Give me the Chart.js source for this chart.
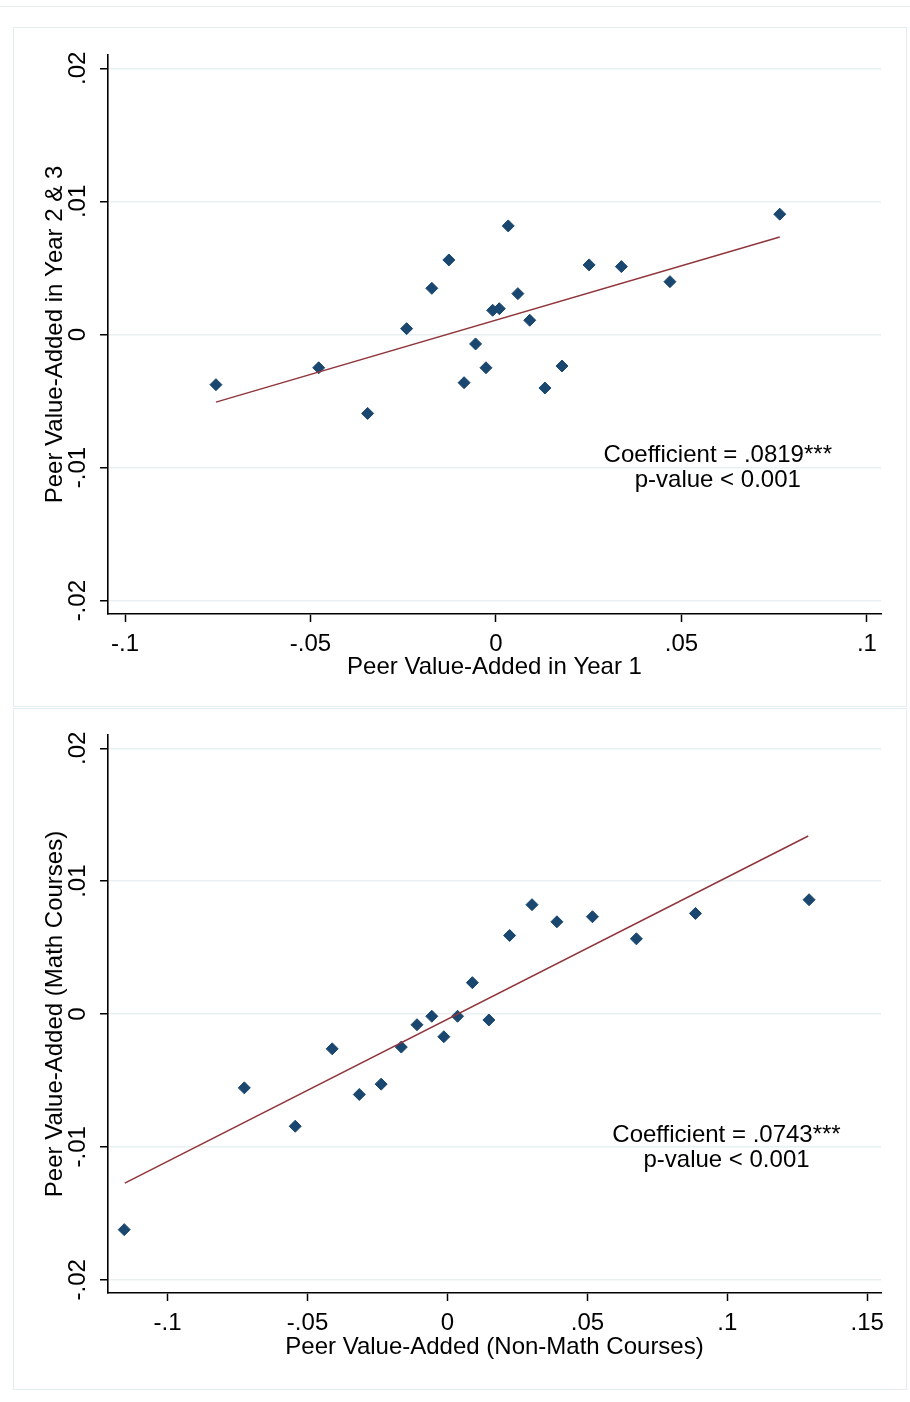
<!DOCTYPE html>
<html>
<head>
<meta charset="utf-8">
<script src="https://cdn.jsdelivr.net/npm/chart.js@4"></script>
<style>
  body { margin: 0; background: #fff; width: 910px; height: 1402px; position: relative; overflow: hidden; }
  .topline { position: absolute; left: 0; top: 6px; width: 910px; border-top: 1px solid #e6eef0; }
  .panel { position: absolute; left: 13px; width: 892px; border: 1px solid #e3ecee; }
  .panel canvas { display: block; }
</style>
</head>
<body>
<div class="topline"></div>
<div class="panel" style="top: 27px; height: 678px;">
  <canvas id="yearChart" width="892" height="678"></canvas>
</div>
<div class="panel" style="top: 708px; height: 680px;">
  <canvas id="mathChart" width="892" height="680"></canvas>
</div>
<script>
// shared y axis
const yTicks = [-0.02, -0.01, 0, 0.01, 0.02];
const yTickLabels = ['-.02', '-.01', '0', '.01', '.02'];

// top panel: year 1 vs year 2 & 3
const yearTicks = [-0.1, -0.05, 0, 0.05, 0.1];
const yearTickLabels = ['-.1', '-.05', '0', '.05', '.1'];
const year1 = [-0.0755, -0.0478, -0.0346, -0.0241, -0.0173, -0.0127, -0.0086, -0.0055, -0.0027, -0.0009,
  0.0009, 0.0033, 0.0059, 0.0091, 0.0132, 0.0178, 0.0251, 0.0338, 0.0469, 0.0765];
const year23 = [-0.00377, -0.00250, -0.00593, 0.00044, 0.00347, 0.00560, -0.00362, -0.00071, -0.00250, 0.00182,
  0.00194, 0.00816, 0.00307, 0.00107, -0.00402, -0.00237, 0.00523, 0.00510, 0.00397, 0.00904];
const yearFitX = [-0.0755, 0.0765];
const yearFitY = [-0.00508, 0.00733];
const yearNote = ['Coefficient = .0819***', 'p-value < 0.001'];

// bottom panel: non-math vs math courses
const mathTicks = [-0.1, -0.05, 0, 0.05, 0.1, 0.15];
const mathTickLabels = ['-.1', '-.05', '0', '.05', '.1', '.15'];
const nonMath = [-0.1155, -0.0726, -0.0544, -0.0412, -0.0315, -0.0237, -0.0165, -0.0109, -0.0056, -0.0013,
  0.0036, 0.0089, 0.0148, 0.0222, 0.0302, 0.0391, 0.0518, 0.0675, 0.0886, 0.1292];
const math = [-0.01623, -0.00556, -0.00845, -0.00262, -0.00606, -0.00528, -0.00249, -0.00081, -0.00017, -0.00171,
  -0.00017, 0.00236, -0.00045, 0.00591, 0.00823, 0.00694, 0.00732, 0.00566, 0.00757, 0.0086];
const mathFitX = [-0.1153, 0.1289];
const mathFitY = [-0.01273, 0.0134];
const mathNote = ['Coefficient = .0743***', 'p-value < 0.001'];

const NAVY = '#1a476f';
const MAROON = '#90353b';
const GRID = '#e8f0f2';
const FONT = "'Liberation Sans', Arial, sans-serif";

const toPoints = (xs, ys) => xs.map((x, i) => ({ x: x, y: ys[i] }));

// y tick labels are rotated and centred on the tick, plus the coefficient note
const stataText = {
  id: 'stataText',
  afterDraw(chart, args, opts) {
    const ctx = chart.ctx;
    const ys = chart.scales.y;
    const xs = chart.scales.x;
    ctx.save();
    ctx.fillStyle = '#000';
    ctx.font = '24px ' + FONT;
    ctx.textAlign = 'center';
    ctx.textBaseline = 'middle';
    ys.ticks.forEach((t, i) => {
      ctx.save();
      ctx.translate(opts.labelX, ys.getPixelForValue(t.value));
      ctx.rotate(-Math.PI / 2);
      ctx.fillText(yTickLabels[i], 0, 0);
      ctx.restore();
    });
    const nx = xs.getPixelForValue(opts.noteAt[0]);
    const ny = ys.getPixelForValue(opts.noteAt[1]);
    opts.note.forEach((line, i) => ctx.fillText(line, nx, ny + i * 25));
    ctx.restore();
  }
};

const Charts = {
  init() {
    Chart.defaults.color = '#000';
    Chart.defaults.font.family = FONT;
    Chart.defaults.font.size = 24;

    this.draw('yearChart', {
      pts: toPoints(year1, year23),
      fit: toPoints(yearFitX, yearFitY),
      xMin: -0.1046, xMax: 0.1038,
      ticks: yearTicks, tickLabels: yearTickLabels,
      xTitle: 'Peer Value-Added in Year 1',
      yTitle: 'Peer Value-Added in Year 2 & 3',
      note: yearNote, noteAt: [0.0598, -0.0091],
      padTop: 27, xHeight: 92, xTitlePad: 24
    });
    this.draw('mathChart', {
      pts: toPoints(nonMath, math),
      fit: toPoints(mathFitX, mathFitY),
      xMin: -0.1213, xMax: 0.1549,
      ticks: mathTicks, tickLabels: mathTickLabels,
      xTitle: 'Peer Value-Added (Non-Math Courses)',
      yTitle: 'Peer Value-Added (Math Courses)',
      note: mathNote, noteAt: [0.0997, -0.0091],
      padTop: 26, xHeight: 96, xTitlePad: 27
    });
  },

  draw(id, c) {
    const ctx = document.getElementById(id);
    if (!ctx) return;

    new Chart(ctx, {
      type: 'scatter',
      data: {
        datasets: [{
          label: 'Fitted values',
          data: c.fit,
          showLine: true,
          borderColor: MAROON,
          borderWidth: 1.5,
          pointRadius: 0
        }, {
          label: 'Peer value-added',
          data: c.pts,
          pointStyle: 'rectRot',
          pointRadius: 6,
          pointBackgroundColor: NAVY,
          pointBorderColor: NAVY,
          pointBorderWidth: 1
        }]
      },
      options: {
        responsive: false,
        animation: false,
        devicePixelRatio: 1,
        layout: {
          padding: { top: c.padTop, right: 25, left: 0, bottom: 0 }
        },
        plugins: {
          legend: { display: false },
          tooltip: { enabled: false },
          stataText: { labelX: 64, note: c.note, noteAt: c.noteAt }
        },
        scales: {
          x: {
            type: 'linear',
            min: c.xMin,
            max: c.xMax,
            afterBuildTicks: s => { s.ticks = c.ticks.map(v => ({ value: v })); },
            afterFit: s => { s.height = c.xHeight; },
            grid: {
              drawOnChartArea: false,
              drawTicks: true,
              tickLength: 8,
              tickColor: '#000',
              tickWidth: 1.5
            },
            border: { display: true, color: '#000', width: 1.6 },
            ticks: {
              padding: 8,
              maxRotation: 0,
              callback: (v, i) => c.tickLabels[i]
            },
            title: {
              display: true,
              text: c.xTitle,
              padding: { top: 0, bottom: c.xTitlePad }
            }
          },
          y: {
            type: 'linear',
            min: -0.021,
            max: 0.021,
            afterBuildTicks: s => { s.ticks = yTicks.map(v => ({ value: v })); },
            afterFit: s => { s.width = 94; },
            grid: {
              color: GRID,
              lineWidth: 1.5,
              drawTicks: true,
              tickLength: 8,
              tickColor: '#000',
              tickWidth: 1.5
            },
            border: { display: true, color: '#000', width: 1.6 },
            ticks: { display: false },
            title: {
              display: true,
              text: c.yTitle,
              padding: { top: 27, bottom: 0 }
            }
          }
        }
      },
      plugins: [stataText]
    });
  }
};

document.addEventListener('DOMContentLoaded', () => Charts.init());
</script>
</body>
</html>
